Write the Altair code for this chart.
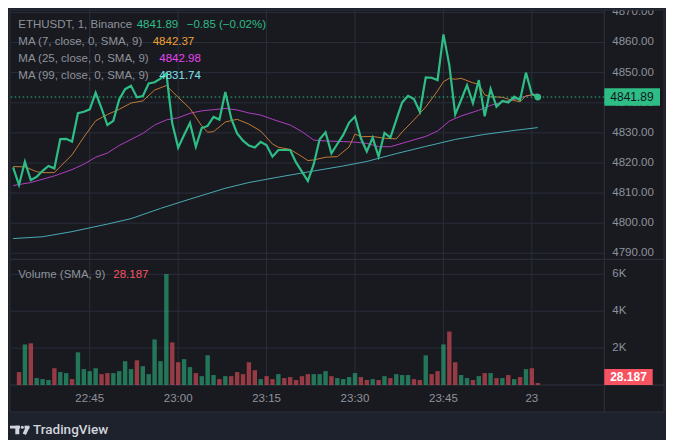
import altair as alt
import pandas as pd

# ---------------- data ----------------
# closing prices, one per minute bar, index 0 = 22:32 ... index 89 = 00:01
close = [4818.5, 4812.7, 4820.4, 4814.3, 4815.4, 4817.4, 4819.0, 4818.2, 4827.9, 4828.0,
         4827.1, 4836.5, 4837.0, 4837.8, 4843.3, 4838.1, 4832.6, 4834.0, 4841.1, 4844.5,
         4845.6, 4841.8, 4842.2, 4846.4, 4846.8, 4848.0, 4849.7, 4833.2, 4825.1, 4829.3,
         4833.3, 4825.4, 4831.6, 4832.3, 4835.3, 4834.4, 4843.6, 4834.8, 4829.8, 4827.4,
         4825.8, 4825.1, 4827.0, 4825.9, 4822.1, 4824.3, 4824.3, 4824.3, 4820.2, 4817.1,
         4814.0, 4819.6, 4827.9, 4830.2, 4823.2, 4826.3, 4829.3, 4833.4, 4835.4, 4828.2,
         4823.8, 4828.4, 4822.1, 4830.0, 4828.4, 4834.3, 4840.1, 4842.3, 4841.2, 4837.0,
         4848.4, 4848.3, 4847.5, 4862.7, 4852.5, 4836.1, 4840.9, 4845.8, 4839.9, 4847.5,
         4835.5, 4844.6, 4838.7, 4840.6, 4840.1, 4842.0, 4840.9, 4850.0, 4842.9, 4841.89]

# volume, bars 1..89
vol = [700, 2200, 2260, 375, 320, 270, 910, 700, 645, 320,
       1770, 860, 750, 910, 590, 645, 645, 750, 1290, 860,
       1340, 1020, 590, 2470, 1290, 6015, 2310, 1235, 1400, 970,
       645, 480, 1610, 540, 320, 480, 480, 700, 590, 1235,
       805, 320, 480, 320, 590, 375, 430, 270, 480, 590,
       590, 590, 750, 480, 375, 320, 430, 645, 430, 270,
       320, 270, 480, 375, 590, 540, 540, 320, 270, 1610,
       590, 750, 2200, 2900, 1235, 540, 375, 270, 480, 645,
       645, 375, 375, 540, 320, 430, 860, 910, 107]
vol_dir = ("rgrgggrggr" "ggggrrgggg" "rgggggrrgg" "rgggrgrrrr" "rgrrg"
           "rrrrr" "gggrggggrr" "grgrgggrrg" "rrgrrggrgr" "grgrgrgrr")

ma7_idx = [0, 2, 4, 5, 7, 8, 10, 12, 14, 16, 18, 20, 22, 24, 26, 28, 30, 32, 33, 34,
           36, 38, 40, 42, 44, 45, 47, 49, 50, 51, 53, 55, 57, 58, 59, 61, 63, 65, 66, 68,
           70, 72, 73, 74, 75, 76, 78, 79, 80, 81, 83, 84, 86, 87, 88, 89]
ma7_val = [4818.8, 4818.7, 4817.1, 4816.8, 4816.8, 4818.8, 4822.7, 4828.6, 4834.0, 4836.1,
           4837.8, 4839.9, 4840.6, 4844.2, 4845.7, 4841.8, 4838.1, 4832.3, 4830.2, 4830.4,
           4833.6, 4834.5, 4832.9, 4830.6, 4826.3, 4825.2, 4824.5, 4822.1, 4820.8, 4821.0,
           4821.9, 4822.1, 4825.3, 4829.6, 4828.7, 4828.8, 4828.2, 4828.0, 4830.3, 4834.3,
           4838.6, 4843.9, 4847.0, 4848.1, 4847.8, 4848.1, 4846.6, 4846.2, 4842.6, 4842.0,
           4841.8, 4841.2, 4840.3, 4842.3, 4842.6, 4842.37]
ma25_idx = [0, 3, 7, 10, 12, 14, 16, 18, 20, 22, 24, 26, 28, 30, 32, 34, 36, 38, 40, 42,
            44, 47, 49, 51, 53, 56, 58, 60, 62, 64, 67, 70, 72, 74, 76, 79, 81, 83, 85, 87, 89]
ma25_val = [4812.5, 4813.5, 4815.7, 4817.8, 4819.6, 4821.9, 4823.3, 4825.8, 4827.8, 4829.8,
            4832.6, 4834.3, 4835.0, 4836.5, 4837.3, 4837.7, 4838.1, 4837.6, 4836.6, 4835.9,
            4834.5, 4832.6, 4830.4, 4827.6, 4827.3, 4827.1, 4826.9, 4826.5, 4825.4, 4825.4,
            4827.1, 4828.8, 4830.6, 4833.9, 4835.6, 4837.5, 4839.1, 4840.2, 4841.1, 4842.2,
            4842.98]
ma99_idx = [0, 5, 10, 16, 20, 25, 30, 36, 40, 45, 50, 56, 60, 65, 70, 75, 80, 85, 89]
ma99_val = [4794.9, 4795.5, 4797.2, 4799.7, 4801.5, 4804.9, 4808.0, 4811.6, 4813.5, 4815.3,
            4817.0, 4819.0, 4820.5, 4823.1, 4825.5, 4827.8, 4829.5, 4830.8, 4831.74]

price_ticks = [4790, 4800, 4810, 4820, 4830, 4840, 4850, 4860, 4870]
vol_ticks = [2000, 4000, 6000]
vol_tick_labels = ["2K", "4K", "6K"]
time_ticks = [13, 28, 43, 58, 73, 88]
time_labels = ["22:45", "23:00", "23:15", "23:30", "23:45", "23"]

symbol_text = "ETHUSDT, 1, Binance"
last_text = "4841.89"
change_text = "\u22120.85 (\u22120.02%)"
ma_titles = ["MA (7, close, 0, SMA, 9)", "MA (25, close, 0, SMA, 9)", "MA (99, close, 0, SMA, 9)"]
ma_last = ["4842.37", "4842.98", "4831.74"]
vol_title = "Volume (SMA, 9)"
vol_last = "28.187"

# ---------------- tables ----------------
df_close = pd.DataFrame({"idx": list(range(len(close))), "close": close})
df_last = df_close.tail(1)
df_vol = pd.DataFrame({"idx": list(range(1, len(vol) + 1)), "vol": vol,
                       "dir": ["up" if c == "g" else "down" for c in vol_dir]})
df_ma7 = pd.DataFrame({"idx": ma7_idx, "v": ma7_val})
df_ma25 = pd.DataFrame({"idx": ma25_idx, "v": ma25_val})
df_ma99 = pd.DataFrame({"idx": ma99_idx, "v": ma99_val})
df_vt = pd.DataFrame({"level": vol_ticks, "label": vol_tick_labels})
df_pt = pd.DataFrame({"level": price_ticks})
df_tt = pd.DataFrame({"idx": time_ticks, "label": time_labels})
one = pd.DataFrame({"k": [0]})

# ---------------- style ----------------
FONT = "Liberation Sans"
BG = "#181a20"
FRAME = "#1e222d"
GRID = "#2a2e39"
SEP = "#2f333e"
GRAY = "#8f929b"
AXT = "#8f929b"
GREEN = "#2ebd85"
RED = "#f7525f"
ORANGE_T, ORANGE_L = "#f0a035", "#c27a34"
MAG_T, MAG_L = "#e544f0", "#b03fc0"
CYAN_T, CYAN_L = "#7fe3ee", "#4aa9b2"

OX, OY = 10.7, 10.0     # page position of the plot's top-left corner
W, H = 593.3, 375.0


def px(x):
    return round(x - OX, 2)


def py(y):
    return round(y - OY, 2)


XS = alt.Scale(domain=[0.44, 99.39], nice=False, zero=False)
YP = alt.Scale(domain=[4746.27, 4870.79], nice=False, zero=False)
YV = alt.Scale(domain=[0, 20330], nice=False, zero=False)


def X(field):
    return alt.X(field, type="quantitative", scale=XS, axis=None)


def YPr(field):
    return alt.Y(field, type="quantitative", scale=YP, axis=None)


def YVo(field):
    return alt.Y(field, type="quantitative", scale=YV, axis=None)


def box(x1, x2, y1, y2, fill):
    return alt.Chart(one).mark_rect(color=fill).encode(
        x=alt.value(px(x1)), x2=alt.value(px(x2)), y=alt.value(py(y1)), y2=alt.value(py(y2)))


def hline(y, x1, x2, color=SEP):
    return alt.Chart(one).mark_rule(color=color, strokeWidth=1).encode(
        x=alt.value(px(x1)), x2=alt.value(px(x2)), y=alt.value(py(y)))


def vline(x, y1, y2, color=SEP):
    return alt.Chart(one).mark_rule(color=color, strokeWidth=1).encode(
        x=alt.value(px(x)), y=alt.value(py(y1)), y2=alt.value(py(y2)))


def txt(s, x, y, color, size=11.5, weight="normal", align="left", font=FONT):
    return alt.Chart(one).mark_text(text=s, color=color, fontSize=size, font=font,
                                    fontWeight=weight, align=align, baseline="middle").encode(
        x=alt.value(px(x)), y=alt.value(py(y)))


# ---------------- grids and tick labels (through the scales) ----------------
time_grid = alt.Chart(df_tt).mark_rule(color=GRID, strokeWidth=1).encode(
    x=X("idx"), y=alt.value(0), y2=alt.value(H))
time_text = alt.Chart(df_tt).mark_text(color=AXT, fontSize=11.5, font=FONT, align="center",
                                       baseline="middle").encode(
    x=X("idx"), y=alt.value(py(399)), text="label:N")
price_grid = alt.Chart(df_pt).mark_rule(color=GRID, strokeWidth=1).encode(
    y=YPr("level"), x=alt.value(0), x2=alt.value(W))
price_text = alt.Chart(df_pt).mark_text(color=AXT, fontSize=11.5, font=FONT, align="left",
                                        baseline="middle").encode(
    y=YPr("level"), x=alt.value(px(612.3)), text=alt.Text("level:Q", format=".2f"))
vol_grid = alt.Chart(df_vt).mark_rule(color=GRID, strokeWidth=1).encode(
    y=YVo("level"), x=alt.value(0), x2=alt.value(W))
vol_text = alt.Chart(df_vt).mark_text(color=AXT, fontSize=11.5, font=FONT, align="left",
                                      baseline="middle").encode(
    y=YVo("level"), x=alt.value(px(612.3)), text="label:N")

frame = [
    box(8, 666, 8, 10, FRAME), box(8, 10, 8, 440, FRAME),
    box(664, 666, 8, 440, FRAME), box(8, 666, 412, 440, FRAME),
    hline(10, 10, 664, GRID), hline(412, 10, 664, GRID),
    vline(10, 10, 412, GRID), vline(664, 10, 412, GRID),
    vline(604.3, 10, 412), hline(259.3, 10, 664), hline(385, 10, 664),
]

# ---------------- data marks ----------------
vbars = alt.Chart(df_vol).mark_bar(width=4.4, opacity=0.57).encode(
    x=X("idx"), y=YVo("vol"),
    color=alt.Color("dir:N", scale=alt.Scale(domain=["up", "down"], range=[GREEN, RED]),
                    legend=None))
price_line = alt.Chart(df_close).mark_line(color=GREEN, strokeWidth=2.2, clip=True).encode(
    x=X("idx"), y=YPr("close"))


def ma_line(df, color):
    return alt.Chart(df).mark_line(color=color, strokeWidth=1, clip=True).encode(
        x=X("idx"), y=YPr("v"))


last_rule = alt.Chart(df_last).mark_rule(color=GREEN, strokeWidth=1, strokeDash=[1.5, 2.5]).encode(
    y=YPr("close"), x=alt.value(0), x2=alt.value(W))
last_dot = alt.Chart(df_last).mark_circle(color=GREEN, size=45, opacity=1).encode(
    x=X("idx"), y=YPr("close"))
price_box = alt.Chart(df_last).transform_calculate(
    lo="datum.close - 2.9", hi="datum.close + 2.9").mark_rect(color=GREEN).encode(
    x=alt.value(px(604.3)), x2=alt.value(px(660)), y=YPr("lo"), y2="hi:Q")
price_box_text = alt.Chart(df_last).mark_text(color="#131722", fontSize=12, font=FONT,
                                              align="center", baseline="middle").encode(
    x=alt.value(px(632)), y=YPr("close"), text=alt.Text("close:Q", format=".2f"))

legend = [
    txt(symbol_text, 18.3, 25, GRAY), txt(last_text, 136.7, 25, GREEN),
    txt(change_text, 186.7, 25, GREEN),
    txt(ma_titles[0], 18.3, 41.7, GRAY), txt(ma_last[0], 152.7, 41.7, ORANGE_T),
    txt(ma_titles[1], 18.3, 59, GRAY), txt(ma_last[1], 159.3, 59, MAG_T),
    txt(ma_titles[2], 18.3, 76, GRAY), txt(ma_last[2], 159.3, 76, CYAN_T),
    txt(vol_title, 18.3, 275, GRAY), txt(vol_last, 113.3, 275, RED),
]

vol_box = [
    box(604.3, 652.7, 369, 385, RED),
    txt(vol_last, 628.5, 377.3, "#ffffff", size=12, weight="bold", align="center"),
]

logo = [
    box(10, 20, 425.7, 428.5, "#d1d4dc"), box(15.3, 19.3, 425.7, 434.3, "#d1d4dc"),
    alt.Chart(one).mark_circle(color="#d1d4dc", size=9, opacity=1).encode(
        x=alt.value(px(22.3)), y=alt.value(py(427.2))),
    box(24.5, 29.5, 425.7, 428.5, "#d1d4dc"),
    alt.Chart(one).mark_rule(color="#d1d4dc", strokeWidth=3.6).encode(
        x=alt.value(px(28)), x2=alt.value(px(24.3)), y=alt.value(py(426.5)), y2=alt.value(py(434.3))),
    txt("TradingView", 33, 430, "#d1d4dc", size=13.5, weight=500, font="Roboto"),
]

chart = alt.layer(
    time_grid, price_grid, vol_grid, time_text, price_text, vol_text, *frame,
    vbars, ma_line(df_ma99, CYAN_L), ma_line(df_ma25, MAG_L), ma_line(df_ma7, ORANGE_L),
    price_line, last_rule, last_dot, price_box, price_box_text, *vol_box, *legend, *logo,
).resolve_scale(y="independent").properties(
    width=W, height=H,
    padding={"left": OX - 8, "top": OY - 8, "right": 658 - (OX - 8) - W,
             "bottom": 432 - (OY - 8) - H},
    autosize=alt.AutoSizeParams(type="none"),
    background=BG,
).configure_view(stroke=None)

chart.save("out.html", embed_options={"renderer": "svg", "actions": False})
